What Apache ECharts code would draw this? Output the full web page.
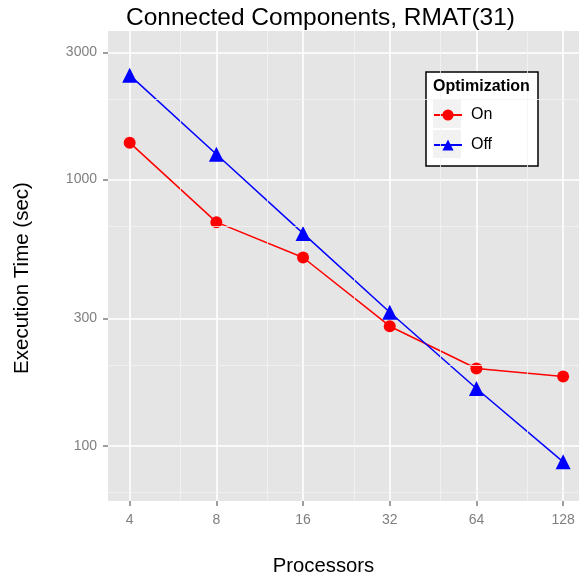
<!DOCTYPE html>
<html>
<head>
<meta charset="utf-8">
<script src="https://cdn.jsdelivr.net/npm/echarts@6/dist/echarts.min.js"></script>
<style>html,body{margin:0;padding:0;background:#fff}#c{width:579px;height:577px}</style>
</head>
<body>
<div id="c"></div>
<script>
const processors = [4, 8, 16, 32, 64, 128];
const timeOn  = [1374, 691, 509, 281, 195, 182];
const timeOff = [2463, 1242, 627, 317, 164, 87];
const xTicks = [4, 8, 16, 32, 64, 128];
const yTicks = [100, 300, 1000, 3000];
const xMinor = [6, 12, 24, 48, 96];
const yMinor = [66.67, 200, 666.67, 2000];

const FONT = 'Liberation Sans, Arial, sans-serif';
const chart = echarts.init(document.getElementById('c'), null, {renderer: 'canvas'});

const minorLines = xMinor.map(v => ({xAxis: v})).concat(yMinor.map(v => ({yAxis: v})));

chart.setOption({
  animation: false,
  backgroundColor: '#ffffff',
  textStyle: {fontFamily: FONT},
  title: [{
    text: 'Connected Components, RMAT(31)',
    left: 121, top: 1,
    textStyle: {fontSize: 24.5, fontWeight: 'normal', color: '#000', fontFamily: FONT}
  }, {
    text: 'Optimization',
    left: 428, top: 74,
    textStyle: {fontSize: 16, fontWeight: 'bold', color: '#000', fontFamily: FONT}
  }],
  graphic: [{
    type: 'rect', z: 3, silent: true,
    shape: {x: 426, y: 72, width: 112, height: 94},
    style: {fill: '#fff', stroke: '#000', lineWidth: 1.5}
  }, {
    type: 'rect', z: 3, silent: true,
    shape: {x: 433, y: 100, width: 28, height: 28},
    style: {fill: '#F2F2F2'}
  }, {
    type: 'rect', z: 3, silent: true,
    shape: {x: 433, y: 130, width: 28, height: 28},
    style: {fill: '#F2F2F2'}
  }],
  legend: {
    orient: 'vertical',
    left: 433, top: 107,
    padding: 0,
    itemWidth: 28, itemHeight: 14, itemGap: 14,
    textStyle: {fontSize: 16, color: '#000', fontFamily: FONT, padding: [0, 0, 0, 4]},
    data: ['On', 'Off']
  },
  grid: {
    left: 108, right: 0, top: 31, bottom: 76,
    outerBoundsMode: 'none',
    show: true, backgroundColor: '#E5E5E5', borderWidth: 0,
    containLabel: false
  },
  xAxis: {
    type: 'log', logBase: 2,
    min: Math.pow(2, 1.75), max: Math.pow(2, 7.183),
    name: 'Processors', nameLocation: 'middle', nameGap: 55,
    nameTextStyle: {fontSize: 20.3, color: '#000', fontFamily: FONT, padding: [0, 40, 0, 0]},
    axisLine: {show: false},
    axisTick: {show: true, length: 5, lineStyle: {color: '#7F7F7F', width: 1.5}, customValues: xTicks},
    axisLabel: {color: '#7F7F7F', fontSize: 14, margin: 12, customValues: xTicks, formatter: v => String(Math.round(v))},
    splitLine: {show: true, lineStyle: {color: '#FFFFFF', width: 1.6}},
    minorSplitLine: {show: false}
  },
  yAxis: {
    type: 'log', logBase: 10,
    min: 62, max: 3607,
    name: 'Execution Time (sec)', nameLocation: 'middle', nameGap: 75,
    nameTextStyle: {fontSize: 20.5, color: '#000', fontFamily: FONT, padding: [0, 24, 0, 0]},
    axisLine: {show: false},
    axisTick: {show: true, length: 5, lineStyle: {color: '#7F7F7F', width: 1.5}, customValues: yTicks},
    axisLabel: {color: '#7F7F7F', fontSize: 14, margin: 11, customValues: yTicks, formatter: v => String(Math.round(v))},
    splitLine: {show: true, lineStyle: {color: '#FFFFFF', width: 1.6}},
    minorSplitLine: {show: false}
  },
  series: [{
    name: 'minor-grid', type: 'line', data: [], z: 1, silent: true,
    markLine: {
      silent: true, symbol: ['none', 'none'], label: {show: false},
      lineStyle: {color: '#F2F2F2', width: 0.8, type: 'solid'},
      emphasis: {disabled: true},
      data: minorLines
    }
  }, {
    name: 'On', type: 'line', z: 3,
    data: processors.map((p, i) => [p, timeOn[i]]),
    symbol: 'circle', symbolSize: 12,
    lineStyle: {color: '#FF0000', width: 1.5},
    itemStyle: {color: '#FF0000'}
  }, {
    name: 'Off', type: 'line', z: 3,
    data: processors.map((p, i) => [p, timeOff[i]]),
    symbol: 'triangle', symbolSize: 15,
    lineStyle: {color: '#0000FF', width: 1.5},
    itemStyle: {color: '#0000FF'}
  }]
});
</script>
</body>
</html>
